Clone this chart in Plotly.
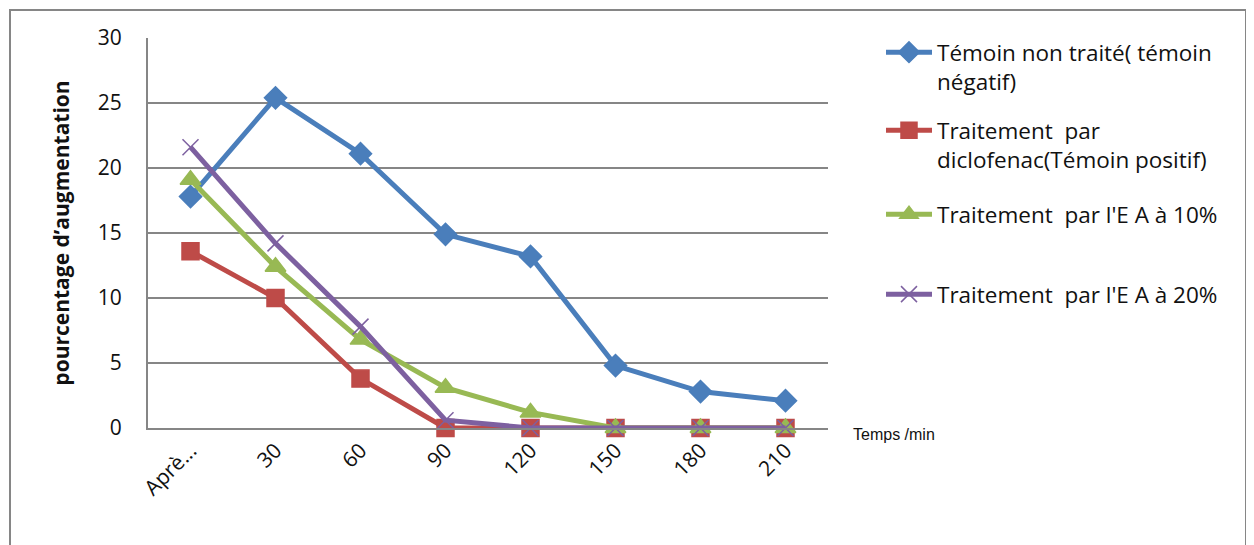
import plotly.graph_objects as go

categories = ["Aprè...", "30", "60", "90", "120", "150", "180", "210"]
temoin_negatif = [17.8, 25.4, 21.1, 14.9, 13.2, 4.8, 2.8, 2.1]
diclofenac = [13.6, 10.0, 3.8, 0, 0, 0, 0, 0]
ea_10 = [19.1, 12.4, 6.8, 3.1, 1.2, 0, 0, 0]
ea_20 = [21.6, 14.2, 7.8, 0.6, 0, 0, 0, 0]

names = ["Témoin non traité( témoin<br>négatif)",
         "Traitement  par<br>diclofenac(Témoin positif)",
         "Traitement  par l'E A à 10%",
         "Traitement  par l'E A à 20%"]
colors = ["#4A7EBB", "#BE4B48", "#98B954", "#7D60A0"]
symbols = ["diamond", "square", "triangle-up", "x-thin-open"]
sizes = [17, 17, 18, 16]
series = [temoin_negatif, diclofenac, ea_10, ea_20]
legends = ["legend", "legend2", "legend3", "legend4"]

FONT = "'Open Sans', sans-serif"

fig = go.Figure()
for vals, name, col, sym, sz, lg in zip(series, names, colors, symbols, sizes, legends):
    fig.add_trace(go.Scatter(
        x=categories, y=vals, name=name, mode="lines+markers",
        line=dict(color=col, width=5),
        marker=dict(symbol=sym, size=sz, color=col,
                    line=dict(color=col, width=1.5)),
        cliponaxis=False, legend=lg, showlegend=True,
    ))

# page body has an 8px default margin: work in figure coordinates = screen - 8
OFF = 8
W, H = 1254 - OFF, 545 - OFF
L, R, T, B = 148 - OFF, 828 - OFF, 38 - OFF, 428 - OFF

def px(x):
    return x / W

def py(y):
    return 1 - y / H

legend_common = dict(font=dict(family=FONT, size=22.5, color="#111111"),
                     bgcolor="rgba(0,0,0,0)", xanchor="left", yanchor="top",
                     valign="top", itemwidth=46, tracegroupgap=0,
                     xref="container", yref="container", visible=True)

fig.update_layout(
    width=W, height=H, showlegend=True,
    margin=dict(l=L, r=W - R, t=T, b=H - B, autoexpand=False),
    paper_bgcolor="white", plot_bgcolor="white",
    font=dict(family=FONT, size=21, color="#111111"),
    xaxis=dict(type="category", tickangle=-45, showgrid=False, automargin=False,
               showline=True, linecolor="#868686", linewidth=2,
               ticks="", tickfont=dict(size=21), range=[-0.5, 7.5]),
    yaxis=dict(range=[0, 30], dtick=5, showgrid=True, gridcolor="#868686",
               gridwidth=1.5, showline=True, linecolor="#868686", linewidth=2,
               zeroline=False, ticks="", ticklabelstandoff=20, automargin=False,
               tickfont=dict(size=21),
               title=dict(text="<b>pourcentage d’augmentation</b>",
                          font=dict(size=21), standoff=22)),
    legend=dict(x=px(873), y=py(23), **legend_common),
    legend2=dict(x=px(873), y=py(101), **legend_common),
    legend3=dict(x=px(873), y=py(185), **legend_common),
    legend4=dict(x=px(873), y=py(265), **legend_common),
    shapes=[dict(type="rect", xref="paper", yref="paper",
                 x0=-(L - 2) / (R - L), x1=(1238 - L) / (R - L),
                 y0=-1, y1=1 + (T - 2) / (B - T),
                 line=dict(color="#868686", width=2), layer="below")],
    annotations=[dict(text="Temps /min", xref="paper", yref="paper",
                      x=(843 - L) / (R - L), y=-(426 - B) / (B - T),
                      xanchor="left", yanchor="middle", showarrow=False,
                      font=dict(family="'Liberation Sans Narrow', Arial", size=16,
                                color="#111111"))],
)

fig.write_html("out.html")
